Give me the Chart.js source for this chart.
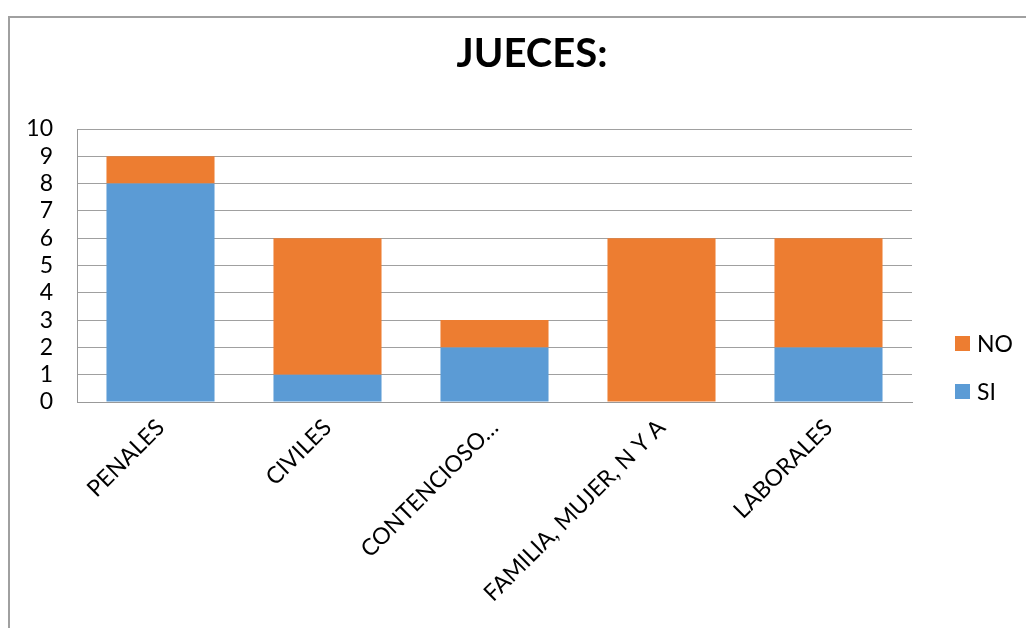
<!DOCTYPE html>
<html>
<head>
<meta charset="utf-8">
<script src="https://cdn.jsdelivr.net/npm/chart.js@4/dist/chart.umd.min.js"></script>
<style>
	html, body { margin: 0; padding: 0; background: #fff; overflow: hidden; }
	#frame { position: absolute; left: 8px; top: 16px; width: 1100px; height: 700px;
		border-top: 2px solid #a0a0a0; border-left: 2px solid #a0a0a0; }
	#chart { position: absolute; left: 0; top: 0; }
</style>
</head>
<body>
<div id="frame"></div>
<canvas id="chart" width="1026" height="628"></canvas>
<script>
var chartTitle = 'JUECES:';
var categories = ['PENALES', 'CIVILES', 'CONTENCIOSO\u2026', 'FAMILIA, MUJER, N Y A', 'LABORALES'];
var siValues = [8, 1, 2, 0, 2];
var noValues = [1, 5, 1, 6, 4];
var yMax = 10;
var yStep = 1;

var FONT = 'Lato';

// title + legend drawn like the office chart (legend at right, lower half)
var decorPlugin = {
	id : 'decor',
	afterDraw : function(chart){
		var ctx = chart.ctx;
		var area = chart.chartArea;
		ctx.save();
		ctx.fillStyle = '#000';
		ctx.font = 'bold 40px ' + FONT;
		ctx.textAlign = 'center';
		ctx.textBaseline = 'alphabetic';
		ctx.fillText(chartTitle, 532, 67);

		ctx.font = '23px ' + FONT;
		ctx.textAlign = 'left';
		var sets = chart.data.datasets.slice().reverse();
		for (var i = 0; i < sets.length; i++) {
			var y = area.bottom - 66 + i * 48;
			ctx.fillStyle = sets[i].backgroundColor;
			ctx.fillRect(area.right + 43, y, 15, 15);
			ctx.fillStyle = '#000';
			ctx.fillText(sets[i].label, area.right + 65, y + 16);
		}
		ctx.restore();
	}
};

var container = document.getElementById('chart');

var chart = new Chart(container, {
	type : 'bar',
	data : {
		labels : categories,
		datasets : [{
			label : 'SI',
			data : siValues,
			backgroundColor : '#5B9BD5',
			barPercentage : 0.647,
			categoryPercentage : 1
		}, {
			label : 'NO',
			data : noValues,
			backgroundColor : '#ED7D31',
			barPercentage : 0.647,
			categoryPercentage : 1
		}]
	},
	plugins : [decorPlugin],
	options : {
		responsive : false,
		animation : false,
		layout : { padding : { top : 129, right : 114, left : 0, bottom : 0 } },
		plugins : {
			legend : { display : false },
			title : { display : false },
			tooltip : { enabled : false }
		},
		scales : {
			x : {
				stacked : true,
				grid : { display : false, drawTicks : false },
				border : { display : true, color : '#999', width : 1 },
				ticks : {
					autoSkip : false,
					minRotation : 45,
					maxRotation : 45,
					padding : 12,
					color : '#000',
					font : { family : FONT, size : 23 }
				},
				afterFit : function(s){ s.height = 226; }
			},
			y : {
				stacked : true,
				min : 0,
				max : yMax,
				grid : { color : '#a0a0a0', lineWidth : 1, drawTicks : false },
				border : { display : true, color : '#999', width : 1 },
				ticks : {
					stepSize : yStep,
					autoSkip : false,
					padding : 24,
					color : '#000',
					font : { family : FONT, size : 23 }
				},
				afterFit : function(s){ s.width = 77; }
			}
		}
	}
});
</script>
</body>
</html>
